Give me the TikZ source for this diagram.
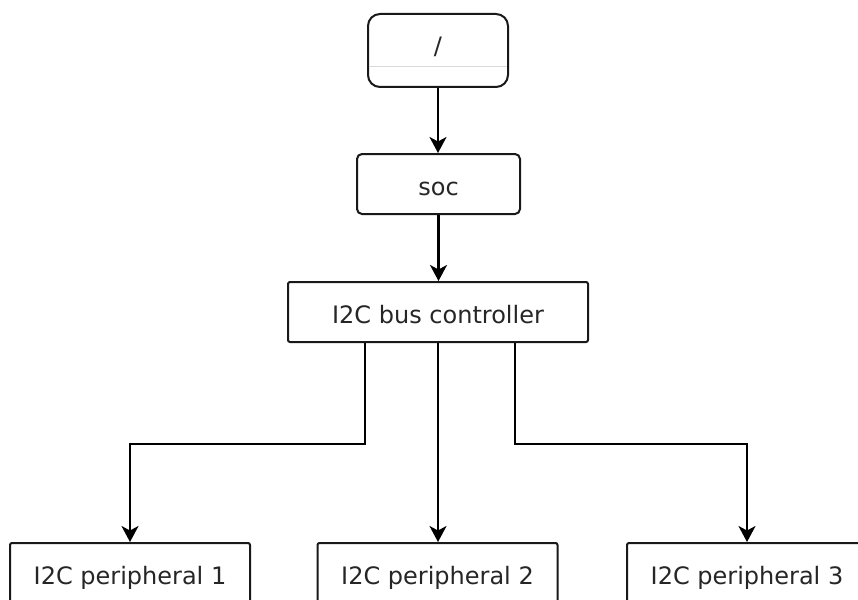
\documentclass[tikz,border=0pt]{standalone}
\usepackage{fontspec}
\setmainfont{DejaVu Sans}
\usetikzlibrary{arrows.meta}

\tikzset{
  blk/.style={draw=black!90, line width=2pt, fill=white, text=black!85,
    font=\fontsize{24}{29}\selectfont, inner sep=0pt,
    text height=22pt, text depth=0pt, minimum height=60pt},
  link/.style={line width=2.2pt, -{Stealth[length=16pt,width=17pt,inset=4.5pt]}},
}

\begin{document}
\begin{tikzpicture}[x=1pt,y=-1pt]
        \useasboundingbox (0,0) rectangle (858,599);
        \node[blk, rounded corners=12pt, minimum width=140pt, minimum height=73pt, text height=9pt] (root) at (438,50.5) {/};
        \draw[black!15, line width=1pt, shorten <=2pt, shorten >=2pt] (root.west |- 0,67) -- (root.east |- 0,67);
        \node[blk, rounded corners=5pt, minimum width=163pt] (soc) at (438.5,184) {soc};
        \node[blk, rounded corners=2pt, minimum width=300pt] (ctrl) at (438,312) {I2C bus controller};
        \node[blk, rounded corners=2pt, minimum width=240pt] (per1) at (130,573) {I2C peripheral 1};
        \node[blk, rounded corners=2pt, minimum width=240pt] (per2) at (437.5,573) {I2C peripheral 2};
        \node[blk, rounded corners=2pt, minimum width=240pt] (per3) at (747,573) {I2C peripheral 3};
        \draw[link] (root.south) -- (root.south |- soc.north);
        \draw[link] (soc.south) -- (soc.south |- ctrl.north);
        \draw[link] (ctrl.south) -- (ctrl.south |- per2.north);
        \draw[link] ([xshift=-73pt]ctrl.south) -- ++(0,100.7) -| (per1.north);
        \draw[link] ([xshift=77pt]ctrl.south) -- ++(0,100.7) -| (per3.north);
\end{tikzpicture}
\end{document}
